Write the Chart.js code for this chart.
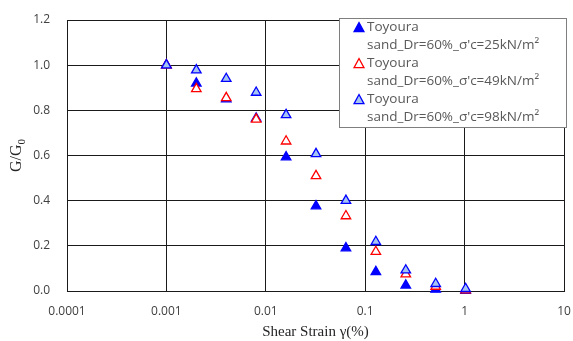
<!DOCTYPE html>
<html>
<head>
<meta charset="utf-8">
<script src="https://cdn.jsdelivr.net/npm/chart.js@4.4.1/dist/chart.umd.min.js"></script>
<style>
  html, body { margin: 0; padding: 0; background: #fff; }
  #wrap { width: 573px; height: 341px; position: relative; }
</style>
</head>
<body>
<div id="wrap"><canvas id="c"></canvas></div>
<script>
'use strict';
// G/G0 vs shear strain — Toyoura sand, three confining pressures

const STRAIN = [0.001, 0.002, 0.004, 0.008, 0.016, 0.032, 0.064, 0.128, 0.256, 0.512, 1.024];
const G_25 = [1.0, 0.92, 0.85, 0.765, 0.593, 0.376, 0.19, 0.085, 0.025, 0.007, 0.002];
const G_49 = [1.0, 0.895, 0.855, 0.76, 0.663, 0.51, 0.332, 0.174, 0.075, 0.02, 0.004];
const G_98 = [1.0, 0.978, 0.94, 0.879, 0.78, 0.607, 0.40, 0.218, 0.092, 0.032, 0.01];
const X_TICKS = [0.0001, 0.001, 0.01, 0.1, 1, 10];
const X_LABELS = ['0.0001', '0.001', '0.01', '0.1', '1', '10'];
const NAMES = [
  ['Toyoura', 'sand_Dr=60%_σ\'c=25kN/m²'],
  ['Toyoura', 'sand_Dr=60%_σ\'c=49kN/m²'],
  ['Toyoura', 'sand_Dr=60%_σ\'c=98kN/m²'],
];
const STYLES = [
  { fill: '#0000ff', line: '#0000ff' },
  { fill: '#ffffff', line: '#ff0000' },
  { fill: '#a6c4f2', line: '#0000ff' },
];

const pts = ys => STRAIN.map((x, i) => ({ x, y: ys[i] }));
const ds = (ys, k, order) => ({
  label: NAMES[k].join(' '), data: pts(ys), showLine: false, clip: false, order,
  pointStyle: 'triangle', pointRadius: 5.5, pointHoverRadius: 5.5, pointBorderWidth: 1.3,
  pointBackgroundColor: STYLES[k].fill, pointBorderColor: STYLES[k].line,
  backgroundColor: STYLES[k].fill, borderColor: STYLES[k].line,
});

function tri(ctx, x, y, r, st) {
  ctx.beginPath();
  ctx.moveTo(x, y - r);
  ctx.lineTo(x + r * 0.9, y + r * 0.65);
  ctx.lineTo(x - r * 0.9, y + r * 0.65);
  ctx.closePath();
  ctx.fillStyle = st.fill; ctx.fill();
  ctx.lineWidth = 1.3; ctx.strokeStyle = st.line; ctx.stroke();
}

// y title with subscript + boxed legend sitting over the plot (as in the original)
const extras = {
  id: 'extras',
  afterDraw(chart) {
    const ctx = chart.ctx, a = chart.chartArea;
    ctx.save();
    ctx.translate(17, (a.top + a.bottom) / 2);
    ctx.rotate(-Math.PI / 2);
    ctx.fillStyle = '#262626'; ctx.textBaseline = 'middle';
    ctx.font = '16px "Liberation Serif"';
    const w1 = ctx.measureText('G/G').width;
    ctx.font = '11px "Liberation Serif"';
    const w2 = ctx.measureText('0').width;
    let x0 = -(w1 + w2) / 2;
    ctx.font = '16px "Liberation Serif"'; ctx.textAlign = 'left';
    ctx.fillText('G/G', x0, 0);
    ctx.font = '11px "Liberation Serif"';
    ctx.fillText('0', x0 + w1, 5);
    ctx.restore();

    ctx.save();
    const bx = 339, by = 18, bw = 227, bh = 109;
    ctx.fillStyle = '#fff'; ctx.fillRect(bx, by, bw, bh);
    ctx.strokeStyle = '#7f7f7f'; ctx.lineWidth = 1; ctx.strokeRect(bx + 0.5, by + 0.5, bw, bh);
    ctx.font = '13.5px "Open Sans"'; ctx.fillStyle = '#595959';
    ctx.textAlign = 'left'; ctx.textBaseline = 'middle';
    NAMES.forEach((nm, k) => {
      const y = 27 + k * 36;
      tri(ctx, 359, y + 1, 5.5, STYLES[k]);
      ctx.fillStyle = '#595959';
      ctx.fillText(nm[0], 367, y);
      ctx.fillText(nm[1], 367, y + 18);
    });
    ctx.restore();
  }
};

new Chart(document.getElementById('c'), {
  type: 'scatter',
  data: { datasets: [ds(G_25, 0, 3), ds(G_49, 1, 2), ds(G_98, 2, 1)] },
  options: {
    responsive: true, maintainAspectRatio: false, animation: false,
    layout: { padding: { top: 20, right: 9, left: 0, bottom: 0 } },
    plugins: { legend: { display: false }, tooltip: { enabled: false } },
    scales: {
      x: {
        type: 'logarithmic', min: 0.0001, max: 10,
        afterBuildTicks: s => { s.ticks = X_TICKS.map(v => ({ value: v })); },
        afterFit: s => { s.height = 50; s.paddingLeft = 0; s.paddingRight = 0; },
        ticks: { color: '#404040', font: { family: 'Open Sans', size: 12 }, padding: 13, maxRotation: 0, autoSkip: false,
          callback: (v) => { const i = X_TICKS.findIndex(t => Math.abs(t - v) / t < 1e-6); return i >= 0 ? X_LABELS[i] : ''; } },
        grid: { color: '#1a1a1a', lineWidth: 1, drawTicks: false },
        border: { color: '#1a1a1a', width: 1 },
        title: { display: true, text: 'Shear Strain γ(%)', color: '#262626', font: { family: 'Liberation Serif', size: 15 }, padding: { top: 4, bottom: 0 } },
      },
      y: {
        min: 0, max: 1.2,
        afterFit: s => { s.width = 67; s.paddingTop = 0; s.paddingBottom = 0; },
        ticks: { stepSize: 0.2, color: '#404040', font: { family: 'Open Sans', size: 12 }, padding: 17, callback: v => Number(v).toFixed(1) },
        grid: { color: '#1a1a1a', lineWidth: 1, drawTicks: false },
        border: { color: '#1a1a1a', width: 1 },
      },
    },
  },
  plugins: [extras],
});
</script>
</body>
</html>
